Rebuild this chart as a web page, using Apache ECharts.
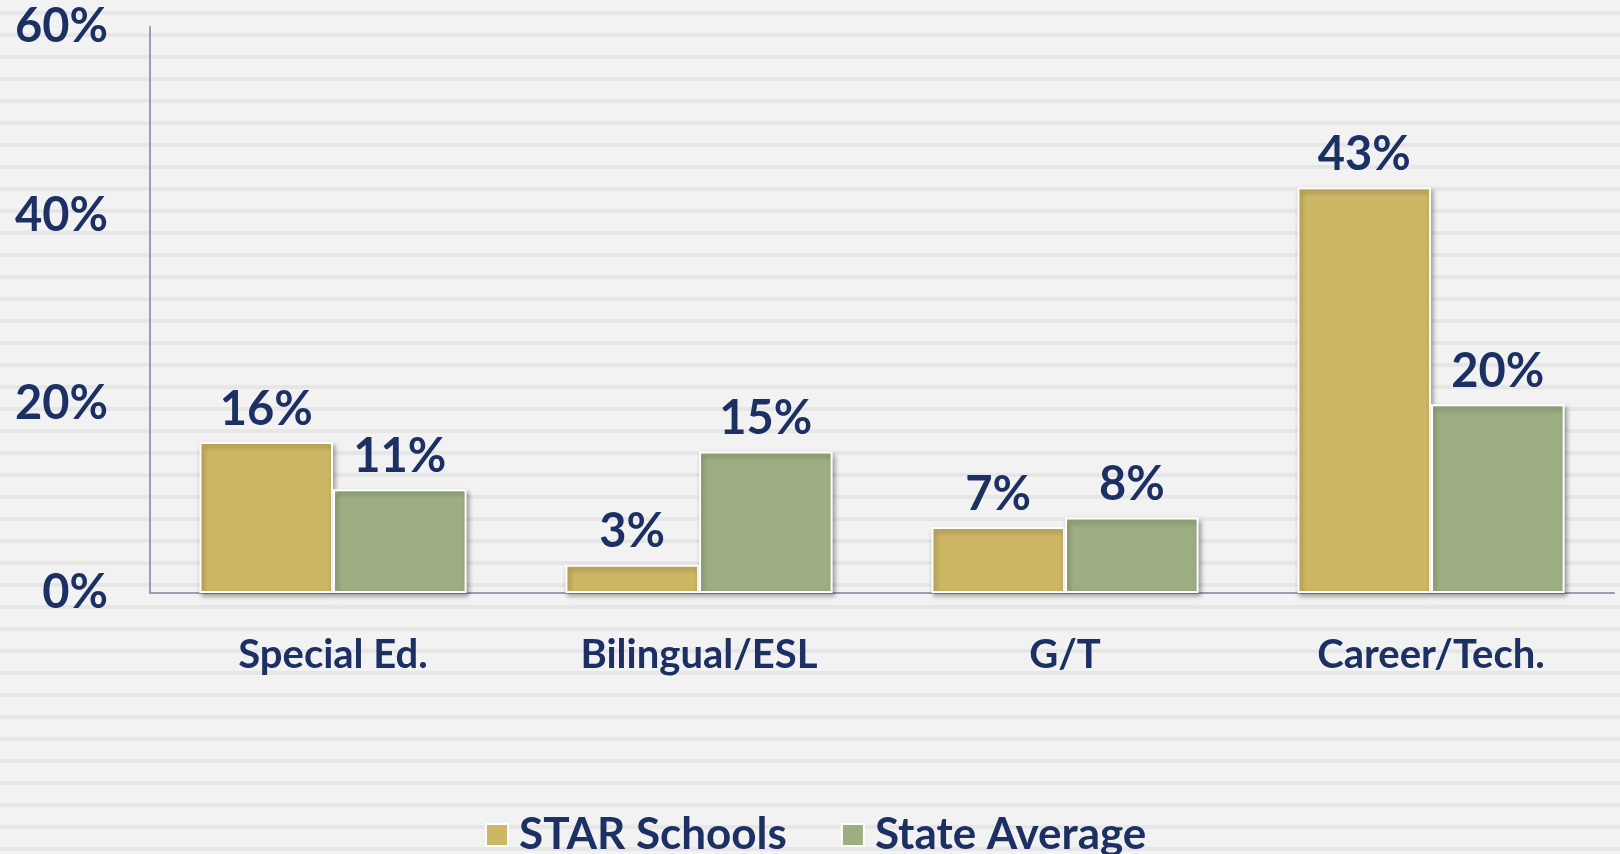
<!DOCTYPE html>
<html>
<head>
<meta charset="utf-8">
<script src="https://cdn.jsdelivr.net/npm/echarts@6/dist/echarts.min.js"></script>
<style>
  html, body { margin: 0; padding: 0; }
  body {
    width: 1620px; height: 854px; overflow: hidden;
    background: repeating-linear-gradient(180deg,
      #f2f2f2 0px, #f2f2f2 11px, #e6e6e6 11px, #e6e6e6 15px, #f2f2f2 15px, #f2f2f2 22px);
  }
  #chart { width: 1620px; height: 854px; }
</style>
</head>
<body>
<div id="chart"></div>
<script>
const categories = ['Special Ed.', 'Bilingual/ESL', 'G/T', 'Career/Tech.']
const starSchools = [16, 3, 7, 43]
const stateAverage = [11, 15, 8, 20]
const yTicks = [0, 20, 40, 60]

const NAVY = '#1c3063'
const FONT = 'Lato'
const AXIS = '#9b9eae'

const chart = echarts.init(document.getElementById('chart'))

const barStyle = color => ({
  color,
  borderColor: '#ffffff',
  borderWidth: 2,
  shadowColor: 'rgba(0,0,0,0.35)',
  shadowBlur: 5,
  shadowOffsetX: 2,
  shadowOffsetY: 3,
})
const label = {
  show: true, position: 'top', distance: 9,
  formatter: '{c}%',
  color: NAVY, fontFamily: FONT, fontWeight: 'bold', fontSize: 47,
}

chart.setOption({
  backgroundColor: 'transparent',
  animation: false,
  grid: { left: 150, right: 6, top: 27, bottom: 261 },
  legend: {
    data: ['STAR Schools', 'State Average'],
    left: 480, top: 808,
    icon: 'rect', itemWidth: 22, itemHeight: 22, itemGap: 54,
    textStyle: { color: NAVY, fontFamily: FONT, fontWeight: 'bold', fontSize: 44, padding: [0, 0, 0, 6] },
  },
  xAxis: {
    type: 'category', data: categories,
    axisLine: { lineStyle: { color: AXIS, width: 2 } },
    axisTick: { show: false },
    axisLabel: { color: NAVY, fontFamily: FONT, fontWeight: 'bold', fontSize: 40, margin: 42 },
  },
  yAxis: {
    type: 'value', min: yTicks[0], max: yTicks[yTicks.length - 1], interval: yTicks[1] - yTicks[0],
    axisLine: { show: true, lineStyle: { color: AXIS, width: 2 } },
    axisTick: { show: false },
    splitLine: { show: false },
    axisLabel: { color: NAVY, fontFamily: FONT, fontWeight: 'bold', fontSize: 47, margin: 42, formatter: '{value}%' },
  },
  series: [
    { name: 'STAR Schools', type: 'bar', data: starSchools, barGap: '0%', barCategoryGap: '27%',
      itemStyle: barStyle('#cdb765'), label },
    { name: 'State Average', type: 'bar', data: stateAverage,
      itemStyle: barStyle('#9daf82'), label },
  ],
})
</script>
</body>
</html>
